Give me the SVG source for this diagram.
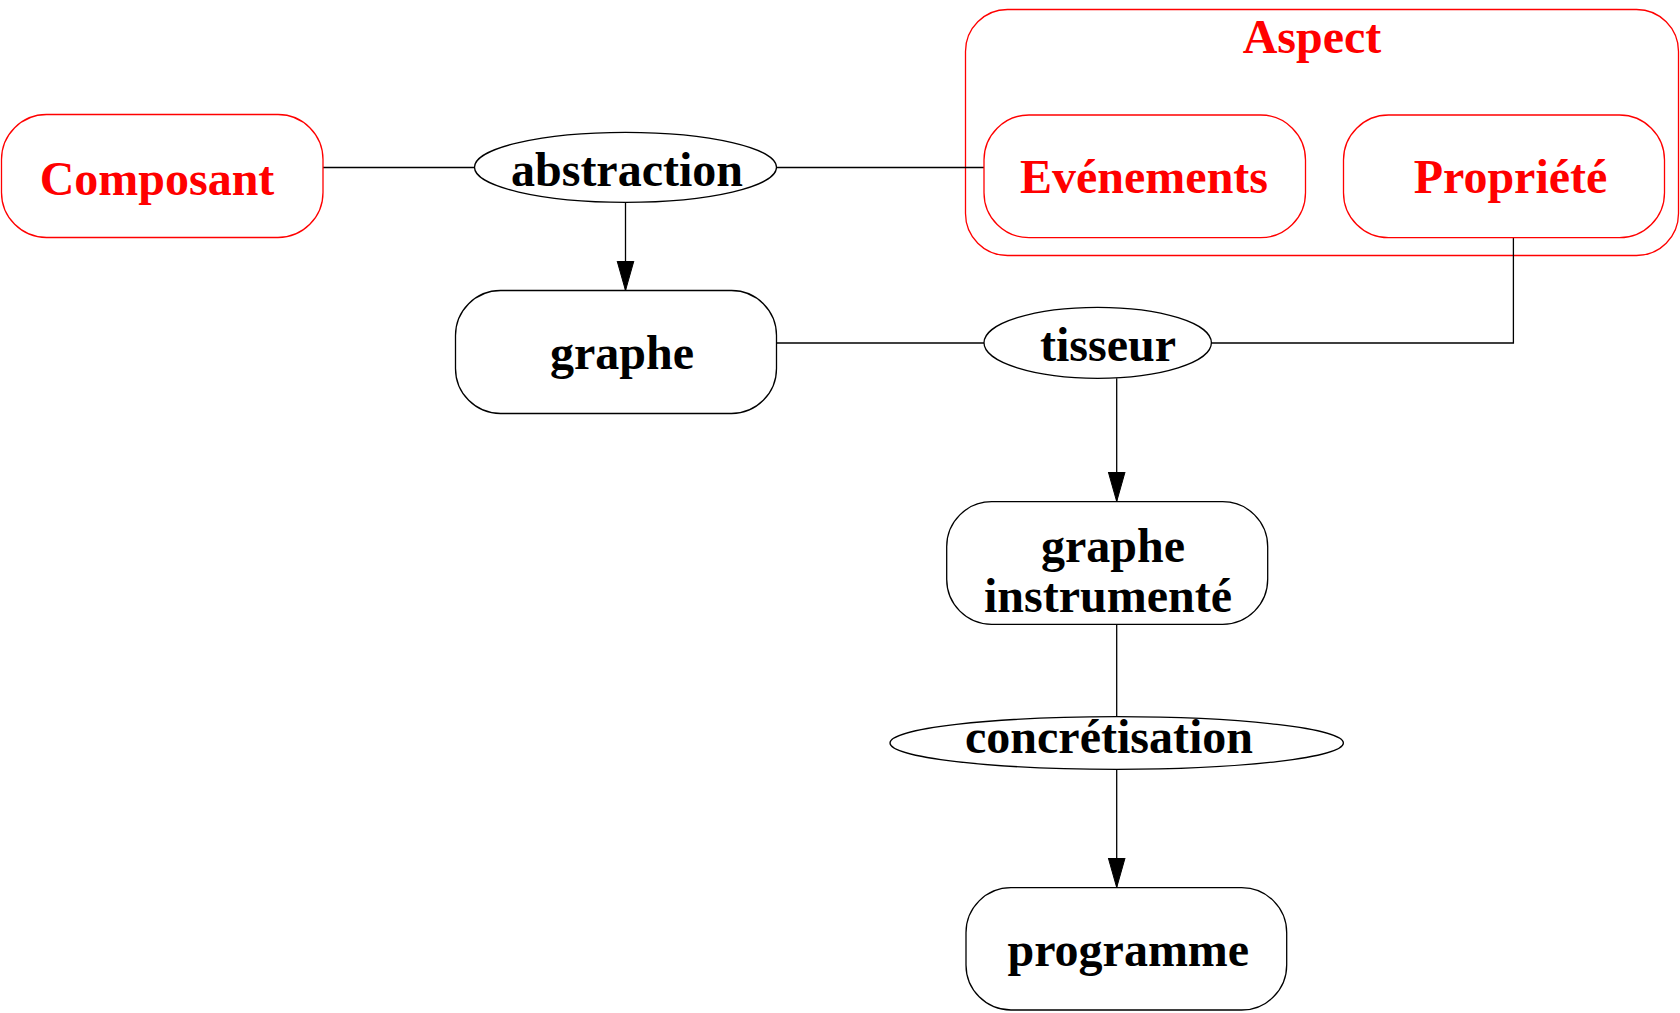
<svg xmlns="http://www.w3.org/2000/svg" width="1680" height="1013" viewBox="0 0 1680 1013">
  <style>
    .box { fill: none; stroke: #000; stroke-width: 1.3; }
    .red { fill: none; stroke: #ff0000; stroke-width: 1.3; }
    .edge { fill: none; stroke: #000; stroke-width: 1.3; }
    text { font-family: "Liberation Serif", "Times New Roman", serif; font-weight: bold; font-size: 48px; text-anchor: middle; }
    .lbl { fill: #000; }
    .rlbl { fill: #ff0000; }
  </style>
  <defs>
    <marker id="arrow" markerUnits="userSpaceOnUse" markerWidth="32" markerHeight="20" refX="30" refY="9" orient="auto">
      <polygon points="0,0.5 30,9 0,17.5" fill="#000" stroke="#000" stroke-width="1"/>
    </marker>
  </defs>
  <rect width="1680" height="1013" fill="#fff"/>

  <!-- cluster: Aspect -->
  <g id="aspect">
    <rect class="red" x="965.5" y="9.5" width="713" height="246" rx="42" ry="42"/>
    <text class="rlbl" x="1312" y="53">Aspect</text>
  </g>

  <!-- connectors -->
  <g id="edges">
    <line class="edge" x1="323" y1="167.5" x2="474.5" y2="167.5"/>
    <line class="edge" x1="776.5" y1="167.5" x2="984" y2="167.5"/>
    <line class="edge" x1="625.5" y1="202.3" x2="625.5" y2="290.5" marker-end="url(#arrow)"/>
    <line class="edge" x1="776.5" y1="343" x2="984" y2="343"/>
    <polyline class="edge" points="1211.4,343 1513.4,343 1513.4,237.7"/>
    <line class="edge" x1="1116.7" y1="378.3" x2="1116.7" y2="501.5" marker-end="url(#arrow)"/>
    <line class="edge" x1="1116.7" y1="624.3" x2="1116.7" y2="716.7"/>
    <line class="edge" x1="1116.7" y1="769.3" x2="1116.7" y2="887.5" marker-end="url(#arrow)"/>
  </g>

  <g id="composant">
    <rect class="red" x="1.5" y="114.5" width="321.5" height="123" rx="45" ry="45"/>
    <text class="rlbl" x="157" y="194.5">Composant</text>
  </g>

  <g id="abstraction">
    <ellipse class="box" cx="625.5" cy="167.3" rx="151" ry="35"/>
    <text class="lbl" x="627" y="186">abstraction</text>
  </g>

  <g id="evenements">
    <rect class="red" x="984" y="115" width="321.5" height="122.7" rx="45" ry="45"/>
    <text class="rlbl" x="1144" y="192.7">Evénements</text>
  </g>

  <g id="propriete">
    <rect class="red" x="1343.5" y="115" width="321" height="122.7" rx="45" ry="45"/>
    <text class="rlbl" x="1510.5" y="192.7">Propriété</text>
  </g>

  <g id="graphe">
    <rect class="box" x="455.5" y="290.5" width="321" height="123" rx="45" ry="45"/>
    <text class="lbl" x="622" y="369.3">graphe</text>
  </g>

  <g id="tisseur">
    <ellipse class="box" cx="1097.7" cy="342.8" rx="113.7" ry="35.5"/>
    <text class="lbl" x="1108" y="361">tisseur</text>
  </g>

  <g id="graphe-instrumente">
    <rect class="box" x="946.7" y="501.7" width="321" height="122.6" rx="45" ry="45"/>
    <text class="lbl" x="1113" y="561.7">graphe</text>
    <text class="lbl" x="1108" y="611.7">instrumenté</text>
  </g>

  <g id="concretisation">
    <ellipse class="box" cx="1116.7" cy="743" rx="226.7" ry="26.3"/>
    <text class="lbl" x="1109" y="752.5">concrétisation</text>
  </g>

  <g id="programme">
    <rect class="box" x="966" y="887.7" width="320.7" height="122.3" rx="45" ry="45"/>
    <text class="lbl" x="1128.3" y="966">programme</text>
  </g>
</svg>
